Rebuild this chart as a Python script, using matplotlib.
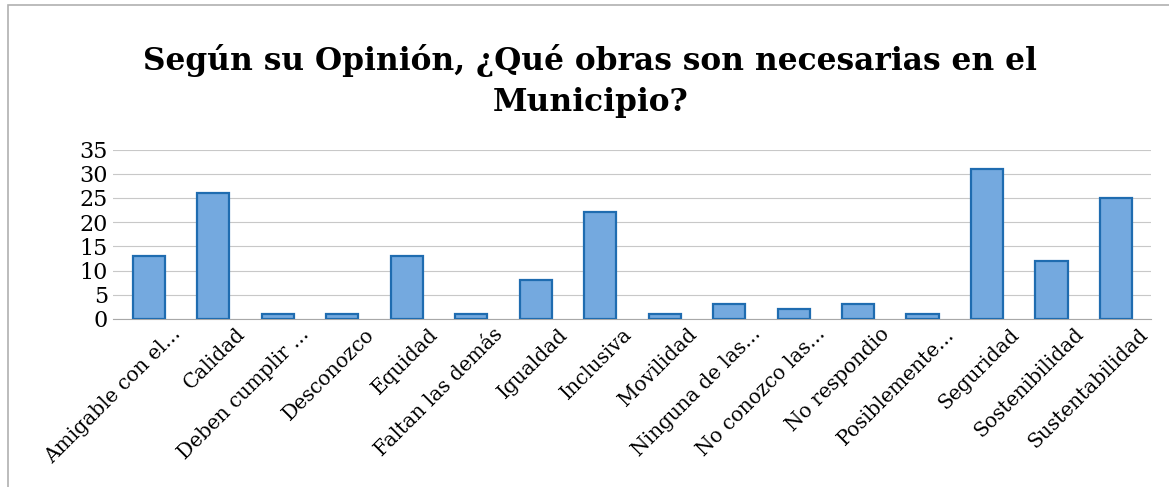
import matplotlib.pyplot as plt
import matplotlib.transforms as mtransforms
from matplotlib.patches import Rectangle

# Data
categorias = ['Amigable con el...', 'Calidad', 'Deben cumplir ...', 'Desconozco',
              'Equidad', 'Faltan las demás', 'Igualdad', 'Inclusiva', 'Movilidad',
              'Ninguna de las...', 'No conozco las...', 'No respondio',
              'Posiblemente...', 'Seguridad', 'Sostenibilidad', 'Sustentabilidad']
valores = [13, 26, 1, 1, 13, 1, 8, 22, 1, 3, 2, 3, 1, 31, 12, 25]
y_ticks = [0, 5, 10, 15, 20, 25, 30, 35]

plt.rcParams['font.family'] = ['DejaVu Serif']

fig = plt.figure(figsize=(11.69, 4.87), dpi=100)
ax = fig.add_axes([0.097, 0.345, 0.888, 0.348])

x = range(len(categorias))
ax.bar(x, valores, width=0.5, color='#74a9df', edgecolor='#1f6cb0',
       linewidth=1.6, zorder=3)

ax.set_xlim(-0.55, len(categorias) - 0.45)
ax.set_ylim(0, 35)
ax.set_yticks(y_ticks)
ax.tick_params(axis='y', labelsize=16, length=0, pad=4)
ax.tick_params(axis='x', length=0, pad=4)
ax.set_xticks(list(x))
ax.set_xticklabels(categorias, rotation=45, ha='right', rotation_mode='anchor',
                   fontsize=14.5)

# shift labels a bit right like the original
shift = mtransforms.ScaledTranslation(0.22, 0, fig.dpi_scale_trans)
for lbl in ax.get_xticklabels():
    lbl.set_transform(lbl.get_transform() + shift)

ax.grid(axis='y', color='#c8c8c8', linewidth=0.8, zorder=0)
for s in ['top', 'right', 'left']:
    ax.spines[s].set_visible(False)
ax.spines['bottom'].set_color('#a8a8a8')

fig.text(0.505, 0.875, 'Según su Opinión, ¿Qué obras son necesarias en el',
         ha='center', va='center', fontsize=22.5, fontweight='bold')
fig.text(0.505, 0.79, 'Municipio?', ha='center', va='center',
         fontsize=22.5, fontweight='bold')

# chart frame
fig.patches.append(Rectangle((0.007, -0.05), 1.2, 1.04, transform=fig.transFigure,
                             fill=False, edgecolor='#b0b0b0', linewidth=1.2))

plt.savefig('out.png', dpi=100)
